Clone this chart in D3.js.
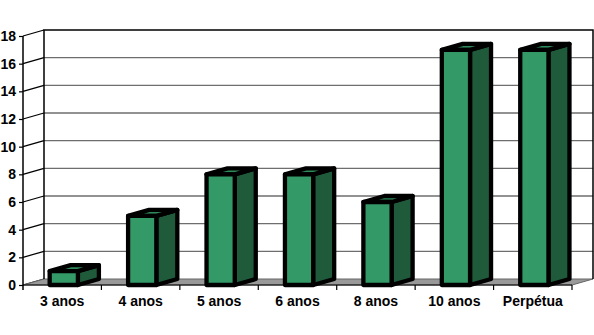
<!DOCTYPE html>
<html>
<head>
<meta charset="utf-8">
<script src="https://cdn.jsdelivr.net/npm/d3@7"></script>
<style>
  body { margin: 0; background: #fff; }
  text { font-family: "Liberation Sans", Arial, sans-serif; font-weight: bold; }
</style>
</head>
<body>
<script>
// data
const categories = ["3 anos", "4 anos", "5 anos", "6 anos", "8 anos", "10 anos", "Perpétua"];
const values = [1, 5, 8, 8, 6, 17, 17];
const yTicks = [0, 2, 4, 6, 8, 10, 12, 14, 16, 18];

const W = 594, H = 335;
const dx = 21, dy = -6; // depth offset of the 3d box

const svg = d3.select("body").append("svg")
  .attr("width", W).attr("height", H);

const x = d3.scaleBand().domain(categories).range([23, 572]);
const y = d3.scaleLinear().domain([0, 18]).range([285, 36]);
const step = x.step();

// back wall
svg.append("rect")
  .attr("x", 23 + dx).attr("y", y(18) + dy)
  .attr("width", 549).attr("height", y(0) - y(18))
  .attr("fill", "#fff");

// gridlines on back wall
svg.selectAll(".grid").data(yTicks.filter(d => d > 0 && d < 18)).enter()
  .append("line")
  .attr("x1", 23 + dx).attr("x2", 572 + dx)
  .attr("y1", d => y(d) + dy).attr("y2", d => y(d) + dy)
  .attr("stroke", "#6e6e6e").attr("stroke-width", 1.3);

// left wall diagonals
svg.selectAll(".diag").data(yTicks).enter()
  .append("line")
  .attr("x1", 23).attr("x2", 23 + dx)
  .attr("y1", d => y(d)).attr("y2", d => y(d) + dy)
  .attr("stroke", "#000").attr("stroke-width", 1.2);

// floor
svg.append("polygon")
  .attr("points", [[23, y(0)], [572, y(0)], [572 + dx, y(0) + dy], [23 + dx, y(0) + dy]].join(" "))
  .attr("fill", "#999").attr("stroke", "#666").attr("stroke-width", 1);

// wall edges
svg.append("path")
  .attr("d", `M${23 + dx},${y(0) + dy}V${y(18) + dy}H${572 + dx}V${y(0) + dy}`)
  .attr("fill", "none").attr("stroke", "#000").attr("stroke-width", 1.5);
svg.append("line")
  .attr("x1", 23).attr("x2", 572).attr("y1", y(0)).attr("y2", y(0))
  .attr("stroke", "#000").attr("stroke-width", 1.2);

// y axis
const yAxis = svg.append("g")
  .attr("transform", "translate(23,0)")
  .call(d3.axisLeft(y).tickValues(yTicks).tickSize(4).tickPadding(3));
yAxis.select(".domain").remove();
yAxis.selectAll(".tick line").attr("stroke", "#000").attr("stroke-width", 1.2);
yAxis.selectAll("text").style("font-size", "14px").attr("fill", "#000");
svg.append("line")
  .attr("x1", 23).attr("x2", 23).attr("y1", y(18)).attr("y2", y(0) + 5)
  .attr("stroke", "#000").attr("stroke-width", 1.5);

// x axis
const xAxis = svg.append("g")
  .attr("transform", `translate(0,${y(0)})`)
  .call(d3.axisBottom(x).tickSize(0).tickPadding(11));
xAxis.select(".domain").remove();
xAxis.selectAll("text").style("font-size", "14px").attr("fill", "#000");
svg.selectAll(".xtick").data(categories).enter()
  .append("line")
  .attr("x1", d => x(d) + step).attr("x2", d => x(d) + step)
  .attr("y1", y(0)).attr("y2", y(0) + 5)
  .attr("stroke", "#000").attr("stroke-width", 1.2);

// bars
const bw = step * 0.36;
const bars = svg.selectAll(".bar").data(categories).enter()
  .append("g");

bars.each(function(c, i) {
  const g = d3.select(this);
  const x0 = x(c) + step * 0.34, x1 = x0 + bw;
  const yt = y(values[i]), yb = y(0);
  const style = s => s.attr("stroke", "#000").attr("stroke-width", 4.3).attr("stroke-linejoin", "round");
  g.append("polygon")
    .attr("points", [[x1, yb], [x1 + dx, yb + dy], [x1 + dx, yt + dy], [x1, yt]].join(" "))
    .attr("fill", "#1f5a3b").call(style);
  g.append("polygon")
    .attr("points", [[x0, yt], [x1, yt], [x1 + dx, yt + dy], [x0 + dx, yt + dy]].join(" "))
    .attr("fill", "#2e8a5b").call(style);
  g.append("rect")
    .attr("x", x0).attr("y", yt).attr("width", bw).attr("height", yb - yt)
    .attr("fill", "#339966").call(style);
});
</script>
</body>
</html>
